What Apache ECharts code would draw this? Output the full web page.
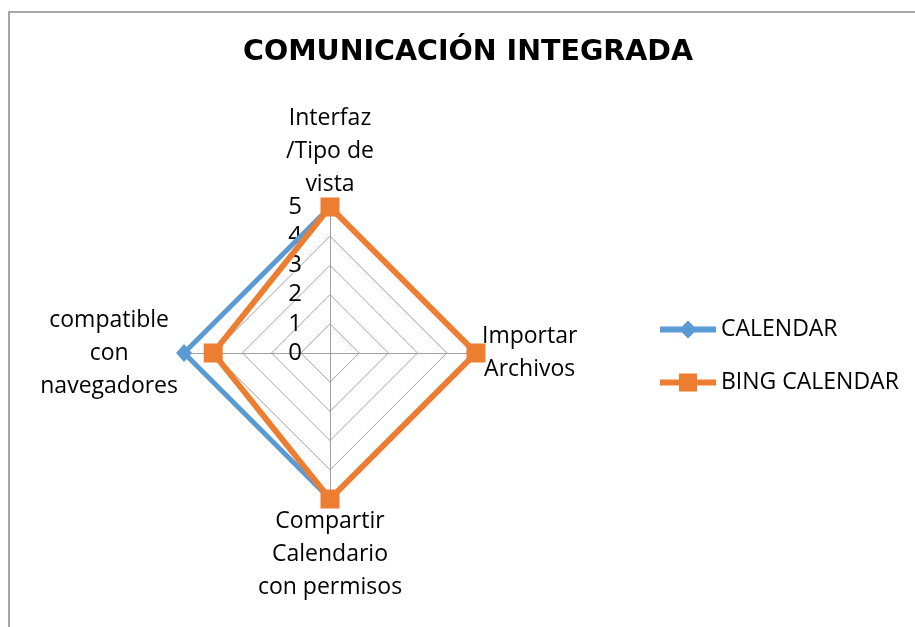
<!DOCTYPE html>
<html>
<head>
<meta charset="utf-8">
<script src="https://cdn.jsdelivr.net/npm/echarts@6/dist/echarts.min.js"></script>
<style>
  html, body { margin: 0; padding: 0; background: #fff; overflow: hidden; }
  #frame { position: absolute; left: 8px; top: 11px; width: 940px; height: 660px;
           border-left: 2px solid #a6a6a6; border-top: 2px solid #a6a6a6; }
  #chart { position: absolute; left: 0; top: 0; width: 915px; height: 627px; }
</style>
</head>
<body>
<div id="frame"></div>
<div id="chart"></div>
<script>
// Indicators in ECharts order (top, then counter-clockwise: left, bottom, right)
const categories = [
  'Interfaz\n/Tipo de\nvista',
  'compatible\ncon\nnavegadores',
  'Compartir\nCalendario\ncon permisos',
  'Importar\nArchivos'
];
const seriesNames = ['CALENDAR', 'BING CALENDAR'];
const calendarValues = [5, 5, 5, 5];
const bingValues = [5, 4, 5, 5];
const scaleMax = 5;
const tickValues = [0, 1, 2, 3, 4, 5];

const BLUE = '#5B9BD5';
const ORANGE = '#ED7D31';
const FONT = 'Open Sans';

const chart = echarts.init(document.getElementById('chart'), null, { renderer: 'canvas' });

const iconDiamond = 'path://M0,7 L56,7 L56,13 L0,13 Z M28,1 L37,10 L28,19 L19,10 Z';
const iconSquare = 'path://M0,7 L56,7 L56,13 L0,13 Z M19,1 L37,1 L37,19 L19,19 Z';

chart.setOption({
  animation: false,
  backgroundColor: 'transparent',
  title: {
    text: 'COMUNICACIÓN INTEGRADA',
    left: 243,
    top: 38,
    padding: 0,
    textStyle: { fontFamily: 'DejaVu Sans', fontWeight: 'bold', fontSize: 28.5, color: '#000' }
  },
  legend: {
    orient: 'vertical',
    left: 655,
    top: 313,
    itemWidth: 56,
    itemHeight: 20,
    itemGap: 30,
    data: [
      { name: seriesNames[0], icon: iconDiamond },
      { name: seriesNames[1], icon: iconSquare }
    ],
    textStyle: { fontFamily: FONT, fontSize: 23, color: '#000' }
  },
  radar: {
    center: [330, 353],
    radius: 146,
    startAngle: 90,
    shape: 'polygon',
    splitNumber: 5,
    indicator: categories.map(n => ({ name: n, min: 0, max: scaleMax })),
    nameGap: 6,
    axisName: {
      color: '#000',
      fontFamily: FONT,
      fontSize: 23,
      lineHeight: 33,
      formatter: (v) => v.split('\n').map(l => '{c|' + l + '}').join('\n'),
      rich: { c: { align: 'center', fontFamily: FONT, fontSize: 23, lineHeight: 33, color: '#000' } }
    },
    axisLine: { lineStyle: { color: '#a0a0a0', width: 1 } },
    splitLine: { lineStyle: { color: '#a0a0a0', width: 1 } },
    splitArea: { show: false },
    axisTick: { show: false },
    axisLabel: { show: false }
  },
  grid: { left: 330, top: 207, width: 1, height: 146 },
  xAxis: { type: 'value', show: false },
  yAxis: {
    type: 'value',
    min: tickValues[0],
    max: tickValues[tickValues.length - 1],
    interval: 1,
    axisLine: { show: false },
    axisTick: { show: false },
    splitLine: { show: false },
    axisLabel: { margin: 28, fontFamily: FONT, fontSize: 24, color: '#000', padding: [4, 0, 0, 0] }
  },
  series: [{
    type: 'radar',
    data: [
      {
        name: seriesNames[0],
        value: calendarValues,
        symbol: 'diamond',
        symbolSize: [16, 18],
        itemStyle: { color: BLUE },
        lineStyle: { color: BLUE, width: 5 }
      },
      {
        name: seriesNames[1],
        value: bingValues,
        symbol: 'rect',
        symbolSize: 19,
        itemStyle: { color: ORANGE },
        lineStyle: { color: ORANGE, width: 6 }
      }
    ]
  }]
});
</script>
</body>
</html>
